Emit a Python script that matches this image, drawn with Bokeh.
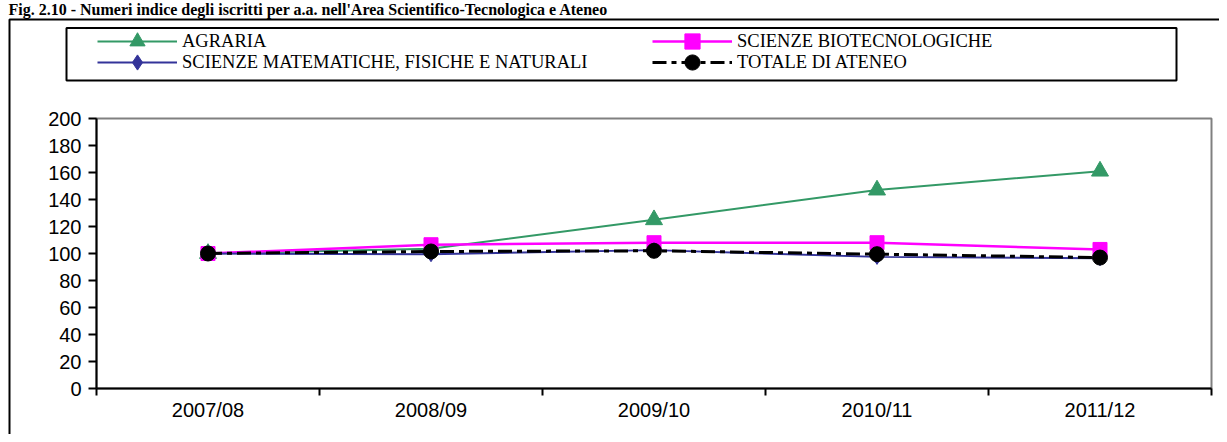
from bokeh.plotting import figure
from bokeh.models import Range1d, FixedTicker, Legend, LegendItem, Label, BoxAnnotation
from bokeh.embed import file_html
from bokeh.resources import INLINE

# ---------------- data ----------------
years = ["2007/08", "2008/09", "2009/10", "2010/11", "2011/12"]
agraria = [100, 103.5, 125, 147, 161]
biotec = [100, 106.5, 108, 108, 103]
smfn = [100, 99.5, 102.5, 97.5, 96.5]
totale = [100, 101.5, 102, 99.5, 97]
y_ticks = [0, 20, 40, 60, 80, 100, 120, 140, 160, 180, 200]
series_names = ["AGRARIA", "SCIENZE BIOTECNOLOGICHE",
                "SCIENZE MATEMATICHE, FISICHE E NATURALI", "TOTALE DI ATENEO"]
title_text = ("Fig. 2.10 - Numeri indice degli iscritti per a.a. "
              "nell'Area Scientifico-Tecnologica e Ateneo")

# ---------------- layout (pixels) ----------------
W, H = 1219, 434
PX_L, PX_R, PX_T, PX_B = 96, 1211, 118, 388     # plot area
n = len(years)
ymax = y_ticks[-1]
kx = (PX_R - PX_L) / n
ky = (PX_B - PX_T) / ymax

def dx(px):
    return (px - PX_L) / kx

def dy(py):
    return (PX_B - py) / ky

xs = [i + 0.5 for i in range(n)]
bounds = list(range(n + 1))

p = figure(width=W, height=H,
           x_range=Range1d(dx(0), dx(W)), y_range=Range1d(dy(H), dy(0)),
           toolbar_location=None, output_backend="svg",
           min_border=0, min_border_left=0, min_border_right=0,
           min_border_top=0, min_border_bottom=0)
p.background_fill_color = "white"
p.border_fill_color = "white"
p.outline_line_color = None
p.xgrid.visible = False
p.ygrid.visible = False

# plot-area border (grey top / right)
p.add_layout(BoxAnnotation(left=0, right=n, bottom=0, top=ymax,
                           fill_alpha=0, line_color="#808080", line_alpha=1,
                           line_width=2, level="underlay"))

# axes fixed at the plot-area edges
p.xaxis.fixed_location = 0
p.xaxis.bounds = (0, n)
p.xaxis.ticker = FixedTicker(ticks=xs, minor_ticks=bounds)
p.xaxis.major_label_overrides = {xs[i]: years[i] for i in range(n)}
p.xaxis.major_tick_out = 0
p.xaxis.major_tick_in = 0
p.xaxis.minor_tick_out = 7
p.xaxis.minor_tick_in = 0
p.xaxis.minor_tick_line_width = 2
p.xaxis.minor_tick_line_color = "black"
p.xaxis.major_label_standoff = 3

p.yaxis.fixed_location = 0
p.yaxis.bounds = (0, ymax)
p.yaxis.ticker = FixedTicker(ticks=y_ticks, minor_ticks=[])
p.yaxis.major_tick_out = 8
p.yaxis.major_tick_in = 0
p.yaxis.major_tick_line_width = 2
p.yaxis.major_label_standoff = 7

for ax in (p.xaxis, p.yaxis):
    ax.axis_line_width = 2
    ax.axis_line_color = "black"
    ax.major_tick_line_color = "black"
    ax.major_label_text_font = "Liberation Sans"
    ax.major_label_text_font_size = "20px"
    ax.major_label_text_color = "black"

# ---------------- series ----------------
l1 = p.line(xs, agraria, line_color="#339966", line_width=2)
m1 = p.scatter(xs, agraria, marker="triangle", size=17,
               fill_color="#339966", line_color="#339966")
l2 = p.line(xs, biotec, line_color="#FF00FF", line_width=2.5)
m2 = p.scatter(xs, biotec, marker="square", size=14,
               fill_color="#FF00FF", line_color="#FF00FF")
l3 = p.line(xs, smfn, line_color="#333399", line_width=2)
m3 = p.scatter(xs, smfn, marker="diamond", size=15,
               fill_color="#333399", line_color="#333399")
l4 = p.line(xs, totale, line_color="black", line_width=3, line_dash="14 5 5 5")
m4 = p.scatter(xs, totale, marker="circle", size=15,
               fill_color="black", line_color="black")

# ---------------- outer frame and legend box ----------------
p.add_layout(BoxAnnotation(left=dx(9), right=dx(W + 200), top=dy(19), bottom=dy(H + 200),
                           fill_alpha=0, line_color="black", line_alpha=1, line_width=2))
p.add_layout(BoxAnnotation(left=dx(66), right=dx(1176), top=dy(27.5), bottom=dy(80),
                           fill_alpha=0, line_color="black", line_alpha=1, line_width=2))

# ---------------- legend entries (one legend per entry) ----------------
def entry(name, rends, px_left, px_center):
    lg = Legend(items=[LegendItem(label=name, renderers=rends)],
                location=(px_left, H - (px_center + 19)), orientation="vertical",
                glyph_width=80, glyph_height=38, spacing=0, padding=0,
                margin=0, label_standoff=5, label_height=20,
                label_text_font="Liberation Serif",
                label_text_font_size="18.5px", label_text_color="black",
                border_line_alpha=0, background_fill_alpha=0)
    p.add_layout(lg, "center")

entry(series_names[0], [l1, m1], 97, 41)
entry(series_names[2], [l3, m3], 97, 62)
entry(series_names[1], [l2, m2], 652, 41)
entry(series_names[3], [l4, m4], 652, 62)

# ---------------- title ----------------
p.add_layout(Label(x=dx(8), y=dy(0), text=title_text,
                   text_font="Liberation Serif", text_font_style="bold",
                   text_font_size="16px", text_baseline="top",
                   text_color="black"))

open("out.html", "w").write(file_html(p, INLINE))
